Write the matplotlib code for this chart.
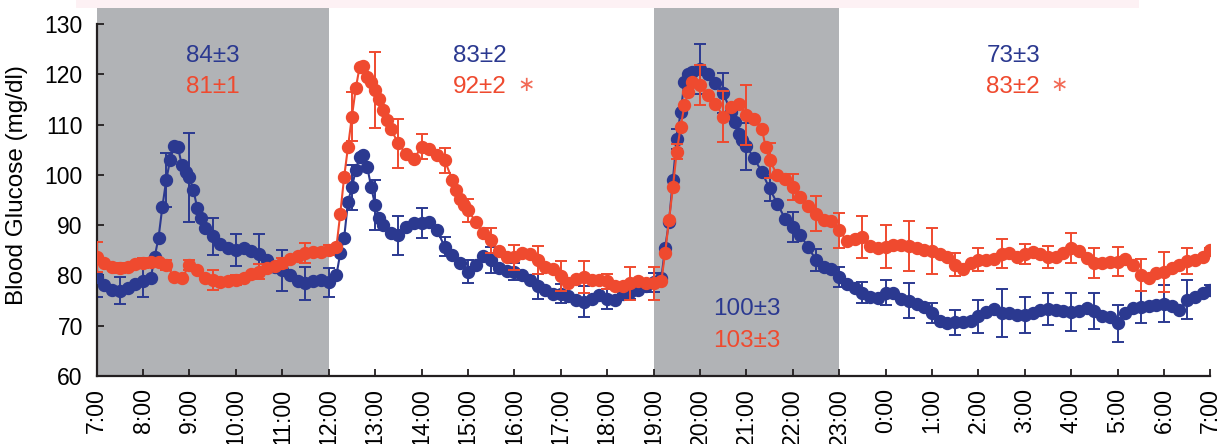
import numpy as np
import matplotlib
matplotlib.use('Agg')
import matplotlib.pyplot as plt
from matplotlib.patches import Rectangle

plt.rcParams['font.family'] = ['Liberation Sans', 'DejaVu Sans']

# Colours
BLUE = '#2b3990'
RED = '#ef4a2f'
GRAY = '#b1b3b6'

# Time grid: 10-minute readings from 7:00 to 7:00 next day (hours since midnight, day 1)
time_h = 7 + np.arange(145) / 6
tick_hours = list(range(7, 32))
tick_labels = ['7:00', '8:00', '9:00', '10:00', '11:00', '12:00', '13:00', '14:00',
               '15:00', '16:00', '17:00', '18:00', '19:00', '20:00', '21:00', '22:00',
               '23:00', '0:00', '1:00', '2:00', '3:00', '4:00', '5:00', '6:00', '7:00']

# Blood glucose, blue group (mg/dl)
blue_glucose = [
    79.7, 78.0, 77.2, 77.0, 77.6, 78.3,        # 7
    78.8, 79.5, 87.5, 99.0, 105.7, 102.0,      # 8
    99.5, 93.5, 89.5, 87.8, 86.3, 85.4,        # 9
    85.1, 85.4, 84.8, 84.2, 83.0, 81.7,        # 10
    81.0, 80.0, 78.9, 78.4, 78.8, 79.0,        # 11
    78.6, 80.1, 87.5, 97.5, 103.6, 101.5,      # 12
    94.0, 90.0, 88.4, 88.0, 89.7, 90.5,        # 13
    90.4, 90.7, 89.0, 85.7, 84.0, 82.4,        # 14
    80.7, 82.1, 83.9, 83.1, 81.4, 80.9,        # 15
    80.7, 80.1, 79.1, 77.8, 77.1, 76.4,        # 16
    76.4, 75.9, 75.1, 74.8, 75.4, 76.1,        # 17
    75.4, 75.1, 76.4, 76.8, 77.2, 77.8,        # 18
    78.6, 79.4, 90.7, 107.2, 118.5, 120.5,     # 19
    121.0, 120.0, 118.2, 116.3, 112.6, 108.2,  # 20
    105.7, 103.3, 100.6, 97.3, 94.3, 91.3,     # 21
    89.7, 88.0, 85.6, 83.1, 81.7, 81.2,        # 22
    79.7, 78.3, 77.6, 76.6, 75.8, 75.6,        # 23
    76.6, 76.6, 75.4, 75.0, 74.3, 73.7,        # 0
    72.5, 71.0, 70.5, 70.7, 70.8, 71.0,        # 1
    71.9, 72.8, 73.3, 72.6, 72.5, 72.2,        # 2
    72.1, 72.6, 73.1, 73.4, 73.1, 72.9,        # 3
    72.8, 73.0, 73.5, 73.0, 71.9, 71.7,        # 4
    70.5, 72.6, 73.5, 73.7, 73.9, 74.1,        # 5
    74.4, 73.9, 73.1, 75.2, 75.8, 76.6,        # 6
    77.2,
]

# Blood glucose, red group (mg/dl)
red_glucose = [
    83.7, 82.5, 81.6, 81.4, 81.7, 82.3,        # 7
    82.4, 82.7, 82.7, 82.1, 79.7, 79.4,        # 8
    82.1, 81.1, 79.4, 79.1, 78.6, 78.8,        # 9
    79.1, 79.5, 80.3, 80.7, 81.4, 81.9,        # 10
    82.5, 83.2, 83.9, 84.4, 84.7, 84.7,        # 11
    85.0, 85.7, 99.6, 111.6, 121.5, 119.5,     # 12
    116.9, 112.9, 109.2, 106.3, 104.1, 103.1,  # 13
    105.6, 105.1, 103.9, 102.9, 99.0, 95.3,    # 14
    93.0, 90.7, 88.4, 87.0, 84.9, 83.6,        # 15
    83.6, 84.5, 84.2, 83.1, 81.7, 81.2,        # 16
    79.9, 78.4, 79.2, 79.7, 79.1, 79.1,        # 17
    78.8, 77.9, 77.8, 78.4, 78.8, 78.4,        # 18
    78.4, 78.8, 91.0, 104.6, 113.9, 118.5,     # 19
    117.9, 115.9, 114.2, 111.6, 113.6, 114.2,  # 20
    111.9, 111.2, 109.2, 102.9, 100.0, 99.1,   # 21
    97.6, 95.7, 93.9, 92.3, 91.1, 90.9,        # 22
    89.0, 86.9, 87.2, 87.6, 85.8, 85.4,        # 23
    85.7, 86.0, 86.0, 85.9, 85.5, 85.0,        # 0
    84.9, 84.3, 83.6, 82.1, 81.2, 82.5,        # 1
    83.1, 83.1, 83.3, 84.3, 84.4, 83.6,        # 2
    84.3, 84.7, 84.2, 83.6, 83.6, 84.5,        # 3
    85.4, 84.9, 83.4, 82.4, 82.4, 82.7,        # 4
    82.7, 83.2, 82.1, 80.1, 79.4, 80.4,        # 5
    80.7, 81.4, 82.1, 82.8, 83.1, 83.6,        # 6
    85.0,
]

# extra 5-minute readings during the steep post-meal rises
blue_extra_times = ['8:15', '8:25', '8:35', '8:45', '8:55', '9:05', '9:15',
                    '12:15', '12:25', '12:35', '12:45', '12:55', '13:05',
                    '19:15', '19:25', '19:35', '19:45', '20:45', '20:55']
blue_extra = [83.7, 93.7, 103.0, 105.6, 100.6, 97.0, 91.5,
              84.4, 94.7, 101.0, 104.0, 97.5, 91.5,
              85.5, 99.0, 112.5, 120.0, 110.5, 107.0]
red_extra_times = ['12:15', '12:25', '12:35', '12:45', '12:55', '13:05', '13:15',
                   '14:45', '14:55', '19:15', '19:25', '19:35', '19:45', '21:25']
red_extra = [92.3, 105.6, 117.2, 121.7, 118.5, 115.0, 111.0,
             97.0, 94.0, 84.5, 97.5, 109.5, 116.5, 105.5]

# SEM every 30 minutes (7:00 ... 7:00)
blue_sem = [4.0, 2.7, 3.0, 5.3, 8.8, 3.7, 3.2, 4.1, 4.1, 3.2,
            2.8, 4.5, 4.9, 3.9, 3.0, 1.9, 2.3, 2.6, 1.7, 2.5,
            1.9, 3.1, 2.0, 1.5, 1.8, 2.0, 5.0, 4.0, 4.7, 2.5,
            3.0, 2.2, 2.0, 2.0, 2.5, 3.4, 2.0, 2.5, 3.3, 4.8,
            3.6, 3.2, 3.8, 3.6, 3.7, 3.2, 3.6, 3.8, 0.8]
red_sem = [3.0, 1.0, 1.0, 1.0, 1.0, 2.0, 1.0, 1.5, 1.0, 2.0,
           1.0, 4.8, 7.5, 4.9, 2.5, 2.5, 2.3, 2.5, 2.5, 2.8,
           3.0, 3.2, 1.5, 3.3, 3.3, 1.5, 4.0, 5.0, 6.0, 3.5,
           2.5, 3.5, 3.5, 4.2, 4.3, 5.0, 4.6, 2.3, 2.3, 2.9,
           2.0, 2.2, 3.0, 3.0, 2.9, 3.2, 4.0, 2.6, 0.5]

# Dark periods (shaded)
dark_periods = [(7, 12), (19, 23)]

# Period means: x hour, blue text, red text, significance mark, placement
period_stats = [
    (9.50, '84±3', '81±1', False, 'top'),
    (15.26, '83±2', '92±2', True, 'top'),
    (21.01, '100±3', '103±3', False, 'bottom'),
    (26.75, '73±3', '83±2', True, 'top'),
]


def clock_to_hours(s):
    h, m = s.split(':')
    h = int(h)
    if h < 7:
        h += 24
    return h + int(m) / 60


def merged(main, extra_times, extra):
    t = np.concatenate([time_h, [clock_to_hours(s) for s in extra_times]])
    v = np.concatenate([main, extra])
    order = np.argsort(t)
    return t[order], v[order]


fig = plt.figure(figsize=(12.25, 4.44), dpi=100)
fig.patches.append(Rectangle((0.062, 0.982), 0.868, 0.018, transform=fig.transFigure,
                             color='#fdf1f4', lw=0, zorder=0))
ax = fig.add_axes([0.0789, 0.1532, 0.9092, 0.8288])

for start, end in dark_periods:
    ax.axvspan(start, end, color=GRAY, lw=0, zorder=0)

t_sem = time_h[::3]
series = [(blue_glucose, blue_extra_times, blue_extra, blue_sem, BLUE, 2),
          (red_glucose, red_extra_times, red_extra, red_sem, RED, 4)]
for vals, ext_t, ext_v, sem, col, z in series:
    vals = np.array(vals)
    ax.errorbar(t_sem, vals[::3], yerr=sem, fmt='none', ecolor=col,
                elinewidth=1.4, capsize=4.5, capthick=1.4, zorder=z)
    t_all, v_all = merged(vals, ext_t, ext_v)
    ax.plot(t_all, v_all, '-o', color=col, ms=8.6, mec=col, lw=1.5, zorder=z + 1)

# annotations
for x, btxt, rtxt, sig, pos in period_stats:
    yb, yr = (122.5, 116.3) if pos == 'top' else (72.1, 65.8)
    ax.text(x, yb, btxt, color=BLUE, fontsize=17.5, ha='center', va='baseline')
    ax.text(x, yr, rtxt, color=RED, fontsize=17.5, ha='center', va='baseline')
    if sig:
        ax.text(x + 1.0, yr + 0.3, '\u2217', color='#f26a56', fontsize=15,
                ha='center', va='baseline', family=['DejaVu Sans'])

ax.set_xlim(7, 31)
ax.set_ylim(60, 133.2)
ax.set_yticks(range(60, 131, 10))
ax.set_xticks(tick_hours)
ax.set_xticklabels(tick_labels, rotation=90)

for side in ['top', 'right']:
    ax.spines[side].set_visible(False)
for side in ['left', 'bottom']:
    ax.spines[side].set_linewidth(1.6)
    ax.spines[side].set_color('#231f20')
ax.spines['left'].set_bounds(60, 130)

ax.tick_params(axis='both', direction='in', length=5, width=1.3, color='#231f20')
ax.tick_params(axis='y', labelsize=16.5, pad=10)
ax.tick_params(axis='x', labelsize=16.7, pad=9)

ax.set_ylabel('Blood Glucose (mg/dl)', fontsize=17.5)
ax.yaxis.set_label_coords(-0.062, 0.52)

fig.savefig('out.png', dpi=100)
